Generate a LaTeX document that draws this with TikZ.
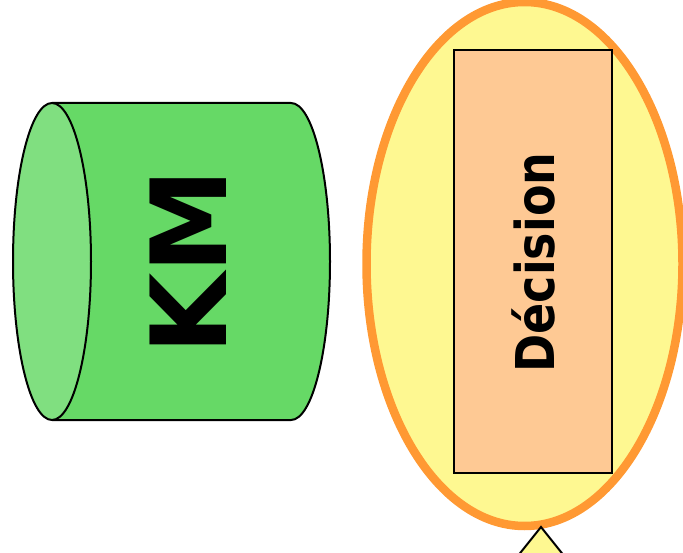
\documentclass[tikz,border=0pt]{standalone}
\usepackage{fontspec}
\setmainfont{DejaVu Sans}
\usetikzlibrary{shapes.geometric}
\definecolor{cylbody}{RGB}{102,217,102}
\definecolor{cylend}{RGB}{128,223,128}
\definecolor{ellfill}{RGB}{254,248,145}
\definecolor{ellline}{RGB}{255,153,51}
\definecolor{peach}{RGB}{254,201,148}
\tikzset{
  cylline/.style={draw=black, line width=2pt, line join=round},
  bigoval/.style={ellipse, draw=ellline, fill=ellfill, line width=8.5pt, inner sep=0pt, minimum width=316pt, minimum height=524pt},
  decbox/.style={rectangle, draw=black, fill=peach, line width=1.5pt, inner sep=0pt, minimum width=158pt, minimum height=423pt},
  tri/.style={draw=black, fill=ellfill, line width=2pt, line join=miter},
  kmtext/.style={font=\fontsize{105}{105}\selectfont\bfseries, rotate=90, anchor=base, inner sep=0pt},
  dectext/.style={font=\fontsize{53.5}{53.5}\selectfont\bfseries, rotate=90, anchor=base, inner sep=0pt}
}
\begin{document}
\begin{tikzpicture}[x=1pt,y=-1pt]
\useasboundingbox (0,0) rectangle (683,553);
% cylinder
\draw[cylline, fill=cylbody] (52,103) -- (291,103) arc[start angle=-90, end angle=90, x radius=39, y radius=158.5] -- (52,420) -- cycle;
\draw[cylline, fill=cylend] (52,261.5) ellipse[x radius=39, y radius=158.5];
\node[kmtext] (km) at (226,262) {KM};
% ellipse with rectangle
\node[bigoval] (oval) at (524.5,264) {};
\node[decbox] (box) at (533,261.5) {};
\node[dectext] (dec) at (554,262.5) {\scalebox{0.86}[1]{Décision}};
% triangle
\coordinate (apex) at (541,527);
\coordinate (tl) at (497,582);
\coordinate (tr) at (585,582);
\draw[tri] (apex) -- (tr) -- (tl) -- cycle;
\end{tikzpicture}
\end{document}
